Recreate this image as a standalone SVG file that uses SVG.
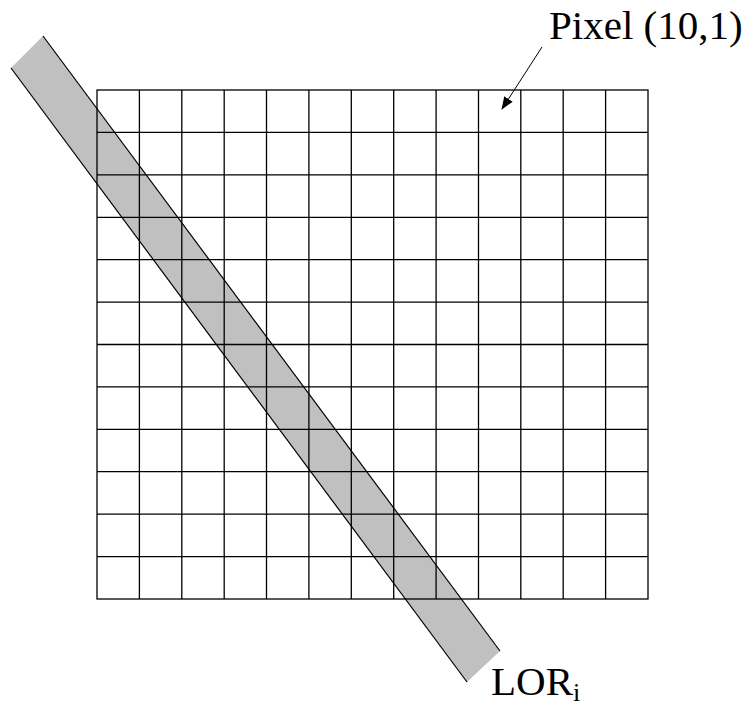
<svg xmlns="http://www.w3.org/2000/svg" width="753" height="707" viewBox="0 0 753 707">
<style>
.grid{stroke:#000;stroke-width:1.3;fill:none}
.lbl{font-family:"Liberation Serif","Times New Roman",serif;fill:#000}
</style>
<defs>
<marker id="ah" markerWidth="13" markerHeight="10" refX="12" refY="5" orient="auto" markerUnits="userSpaceOnUse" viewBox="0 0 13 10">
<path d="M0,0 L13,5 L0,10 Z" fill="#000"/>
</marker>
</defs>
<rect width="753" height="707" fill="#fff"/>
<g id="lor-band">
<polygon points="43,36 500,651 467,682 11,68" fill="#c0c0c0"/>
<line x1="43" y1="36" x2="500" y2="651" stroke="#000" stroke-width="1.2"/>
<line x1="11" y1="68" x2="467" y2="682" stroke="#000" stroke-width="1.2"/>
</g>
<g id="pixel-grid" class="grid">
<rect x="97" y="90" width="551" height="509"/>
<path d="M139.4,90V599M181.8,90V599M224.2,90V599M266.5,90V599M308.9,90V599M351.3,90V599M393.7,90V599M436.1,90V599M478.5,90V599M520.8,90V599M563.2,90V599M605.6,90V599"/>
<path d="M97,132.4H648M97,174.8H648M97,217.3H648M97,259.7H648M97,302.1H648M97,344.5H648M97,386.9H648M97,429.3H648M97,471.7H648M97,514.2H648M97,556.6H648"/>
</g>
<g id="connectors">
<line x1="542" y1="47" x2="502" y2="109" stroke="#000" stroke-width="1" marker-end="url(#ah)"/>
</g>
<g id="label-pixel">
<text class="lbl" x="549" y="39" font-size="41">Pixel (10,1)</text>
</g>
<g id="label-lor">
<text class="lbl" x="491" y="695" font-size="41">LOR<tspan font-size="26" dy="6">i</tspan></text>
</g>
</svg>
